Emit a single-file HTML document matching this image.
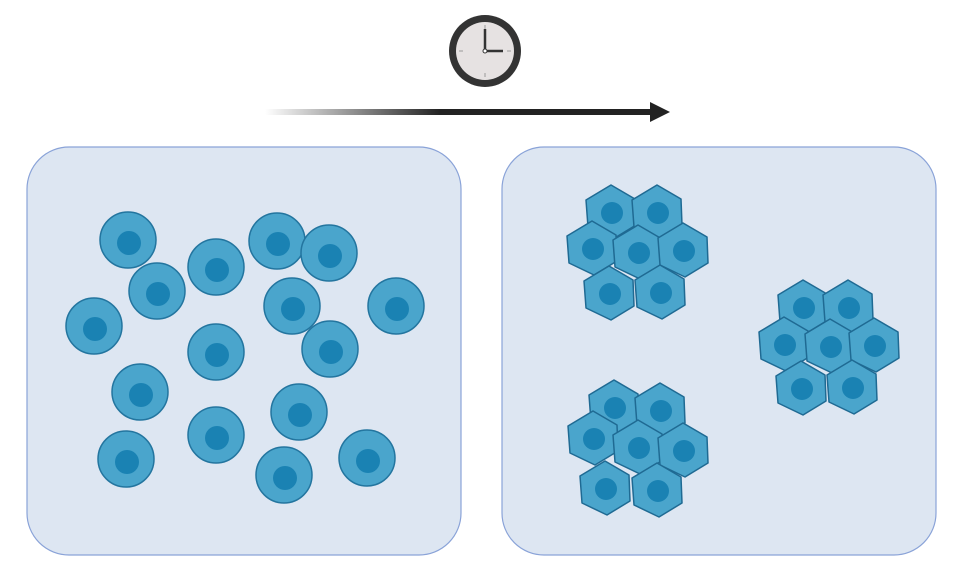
<!DOCTYPE html>
<html><head><meta charset="utf-8"><style>body{margin:0;background:#fff}svg{display:block}</style></head><body>
<svg width="967" height="573" viewBox="0 0 967 573" xmlns="http://www.w3.org/2000/svg">
<defs>
<linearGradient id="g" x1="0" x2="1"><stop offset="0" stop-color="#222" stop-opacity="0"/><stop offset="0.45" stop-color="#222"/><stop offset="1" stop-color="#222"/></linearGradient>
<g id="c"><circle r="28" fill="#4aa5cc" stroke="#23759f" stroke-width="1.5"/><circle cx="1" cy="3" r="12" fill="#1a82b3"/></g>
<g id="h"><polygon points="0,-27 24,-13 25,13 2,27 -23,15 -25,-12" fill="#4aa5cc" stroke="#1f6a93" stroke-width="1.5" stroke-linejoin="round"/><circle cx="1" cy="1" r="11" fill="#1a82b3"/></g>
</defs>
<circle cx="485" cy="51" r="36" fill="#333"/><circle cx="485" cy="51" r="29" fill="#e6e2e2"/>
<g stroke="#999" stroke-width="1"><line x1="485" y1="25" x2="485" y2="29"/><line x1="485" y1="73" x2="485" y2="77"/><line x1="459" y1="51" x2="463" y2="51"/><line x1="507" y1="51" x2="511" y2="51"/></g>
<path d="M485 29V51H503" stroke="#333" stroke-width="2.5" fill="none"/><circle cx="485" cy="51" r="2" fill="#fff" stroke="#333"/>
<rect x="265" y="109" width="390" height="6" fill="url(#g)"/><polygon points="650,102 670,112 650,122" fill="#222"/>
<rect x="27" y="147" width="434" height="408" rx="42" fill="#dde6f2" stroke="#8aa3d8" stroke-width="1.2"/>
<rect x="502" y="147" width="434" height="408" rx="42" fill="#dde6f2" stroke="#8aa3d8" stroke-width="1.2"/>
<g>
<use href="#c" x="128" y="240"/><use href="#c" x="216" y="267"/><use href="#c" x="277" y="241"/><use href="#c" x="329" y="253"/>
<use href="#c" x="157" y="291"/><use href="#c" x="94" y="326"/><use href="#c" x="292" y="306"/><use href="#c" x="396" y="306"/>
<use href="#c" x="216" y="352"/><use href="#c" x="330" y="349"/><use href="#c" x="140" y="392"/><use href="#c" x="299" y="412"/>
<use href="#c" x="216" y="435"/><use href="#c" x="126" y="459"/><use href="#c" x="284" y="475"/><use href="#c" x="367" y="458"/>
</g>
<g>
<use href="#h" x="611" y="212"/><use href="#h" x="657" y="212"/><use href="#h" x="592" y="248"/><use href="#h" x="638" y="252"/><use href="#h" x="683" y="250"/><use href="#h" x="609" y="293"/><use href="#h" x="660" y="292"/>
<use href="#h" x="803" y="307"/><use href="#h" x="848" y="307"/><use href="#h" x="784" y="344"/><use href="#h" x="830" y="346"/><use href="#h" x="874" y="345"/><use href="#h" x="801" y="388"/><use href="#h" x="852" y="387"/>
<use href="#h" x="614" y="407"/><use href="#h" x="660" y="410"/><use href="#h" x="593" y="438"/><use href="#h" x="638" y="447"/><use href="#h" x="683" y="450"/><use href="#h" x="605" y="488"/><use href="#h" x="657" y="490"/>
</g>
</svg>
</body></html>
